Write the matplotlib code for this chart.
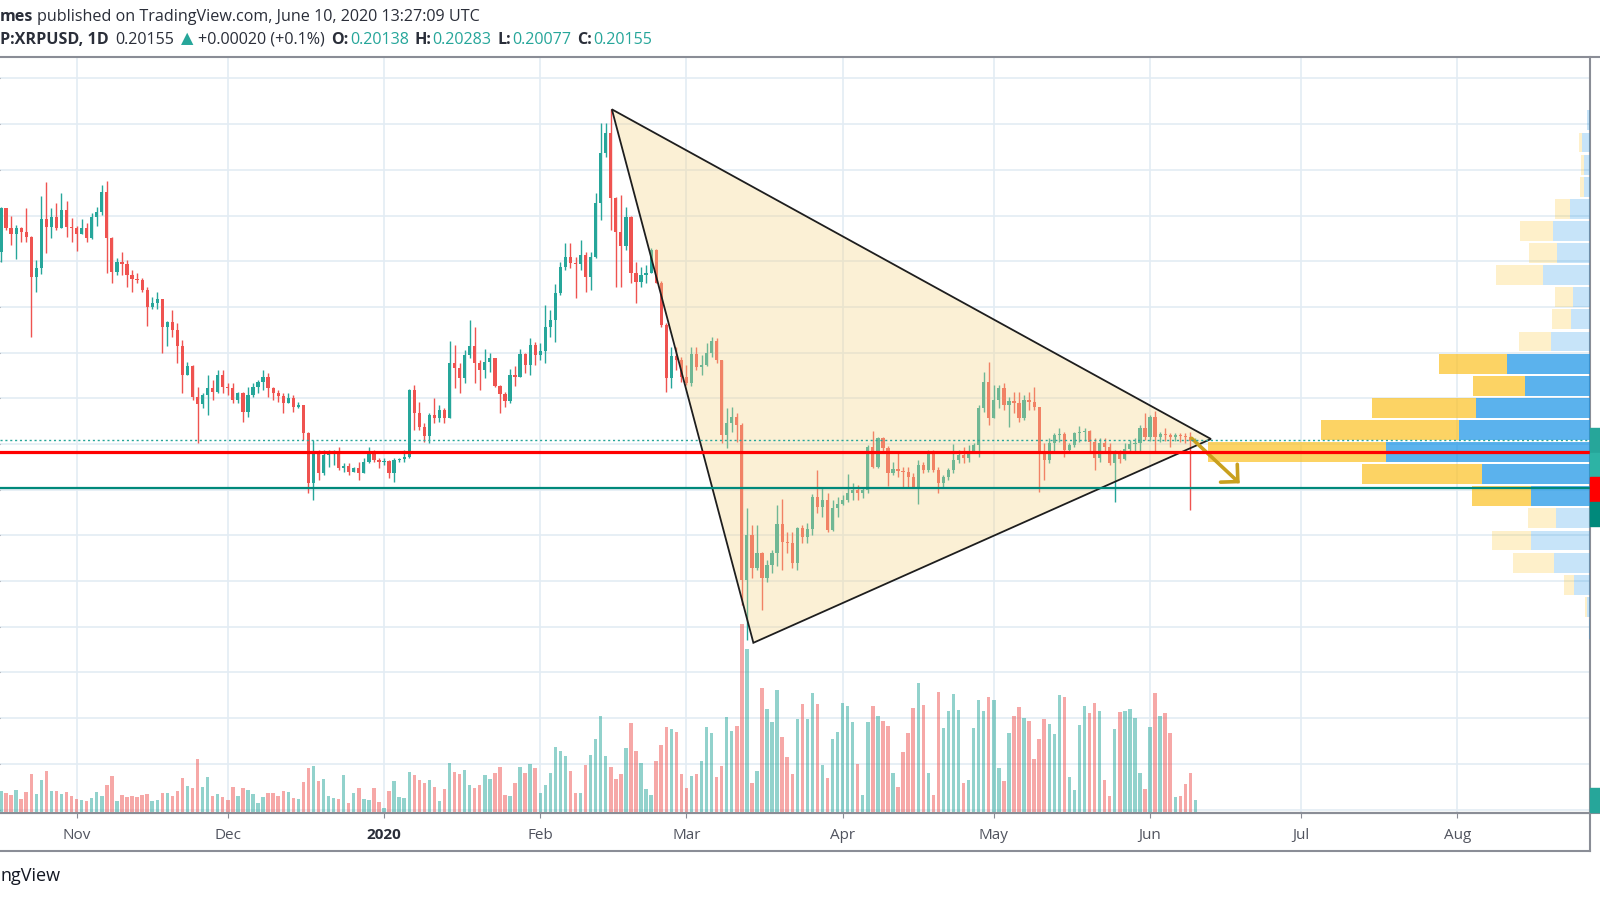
import numpy as np
import pandas as pd
import matplotlib
matplotlib.use('Agg')
import matplotlib.pyplot as plt
import matplotlib.dates as mdates
from matplotlib.patches import Polygon, Rectangle, FancyArrowPatch
from matplotlib.lines import Line2D

# ---- daily candles XRPUSD (Bitstamp), 17 Oct 2019 -> 10 Jun 2020, open = previous close
start_date = '2019-10-17'
first_open = 0.2842
close = [0.3032, 0.2944, 0.2919, 0.2944, 0.2929, 0.2905, 0.2732, 0.2769, 0.2983, 0.2951,
         0.2992, 0.2944, 0.3024, 0.2948, 0.2947, 0.2919, 0.2944, 0.2900, 0.2992, 0.3014,
         0.3104, 0.2900, 0.2754, 0.2798, 0.2788, 0.2740, 0.2721, 0.2718, 0.2674, 0.2601,
         0.2619, 0.2633, 0.2514, 0.2535, 0.2499, 0.2429, 0.2302, 0.2341, 0.2207, 0.2175,
         0.2214, 0.2244, 0.2229, 0.2302, 0.2251, 0.2244, 0.2193, 0.2222, 0.2142, 0.2214,
         0.2251, 0.2273, 0.2292, 0.2244, 0.2222, 0.2210, 0.2181, 0.2200, 0.2160, 0.2171,
         0.2050, 0.1828, 0.1959, 0.1872, 0.1952, 0.1966, 0.1971, 0.1893, 0.1904, 0.1879,
         0.1893, 0.1872, 0.1923, 0.1966, 0.1930, 0.1923, 0.1927, 0.1872, 0.1930, 0.1934,
         0.1945, 0.2236, 0.2137, 0.2076, 0.2035, 0.2127, 0.2112, 0.2149, 0.2112, 0.2353,
         0.2331, 0.2287, 0.2390, 0.2429, 0.2356, 0.2324, 0.2360, 0.2375, 0.2254, 0.2219,
         0.2190, 0.2302, 0.2295, 0.2394, 0.2346, 0.2433, 0.2390, 0.2408, 0.2511, 0.2543,
         0.2659, 0.2776, 0.2820, 0.2791, 0.2788, 0.2827, 0.2730, 0.2820, 0.3053, 0.3272,
         0.3363, 0.3075, 0.2929, 0.2867, 0.2995, 0.2747, 0.2711, 0.2740, 0.2750, 0.2849,
         0.2706, 0.2521, 0.2287, 0.2385, 0.2368, 0.2295, 0.2266, 0.2394, 0.2338, 0.2346,
         0.2397, 0.2451, 0.2368, 0.2039, 0.2090, 0.2120, 0.2083, 0.1405, 0.1602, 0.1456,
         0.1524, 0.1412, 0.1470, 0.1521, 0.1650, 0.1573, 0.1565, 0.1478, 0.1631, 0.1594,
         0.1626, 0.1769, 0.1726, 0.1755, 0.1624, 0.1718, 0.1737, 0.1755, 0.1784, 0.1799,
         0.1787, 0.1799, 0.1988, 0.1901, 0.2025, 0.1981, 0.1875, 0.1889, 0.1883, 0.1879,
         0.1857, 0.1813, 0.1908, 0.1886, 0.1966, 0.1886, 0.1828, 0.1857, 0.1886, 0.1930,
         0.1952, 0.1937, 0.1966, 0.1996, 0.2156, 0.2273, 0.2112, 0.2193, 0.2244, 0.2171,
         0.2190, 0.2178, 0.2112, 0.2193, 0.2185, 0.2160, 0.1966, 0.1930, 0.2003, 0.2039,
         0.2044, 0.1974, 0.1996, 0.2047, 0.2054, 0.2057, 0.2010, 0.1937, 0.2003, 0.1985,
         0.1918, 0.1966, 0.1933, 0.1977, 0.2000, 0.2003, 0.2069, 0.2032, 0.2120, 0.2029,
         0.2044, 0.2039, 0.2029, 0.2039, 0.2035, 0.2032, 0.20138, 0.20155]
high = [0.3039, 0.3024, 0.2998, 0.2959, 0.2951, 0.3032, 0.2910, 0.2805, 0.3085, 0.3148,
        0.3032, 0.3056, 0.3100, 0.3065, 0.2988, 0.2954, 0.2983, 0.2966, 0.3010, 0.3039,
        0.3134, 0.3153, 0.2905, 0.2813, 0.2842, 0.2805, 0.2761, 0.2747, 0.2725, 0.2689,
        0.2645, 0.2667, 0.2633, 0.2540, 0.2587, 0.2528, 0.2455, 0.2360, 0.2346, 0.2251,
        0.2222, 0.2302, 0.2280, 0.2324, 0.2324, 0.2266, 0.2266, 0.2229, 0.2229, 0.2251,
        0.2266, 0.2280, 0.2324, 0.2309, 0.2251, 0.2236, 0.2222, 0.2222, 0.2216, 0.2185,
        0.2171, 0.2054, 0.2018, 0.1974, 0.1974, 0.1974, 0.1974, 0.1988, 0.1915, 0.1915,
        0.1901, 0.1923, 0.1937, 0.1985, 0.1974, 0.1937, 0.1937, 0.1930, 0.1937, 0.1937,
        0.1974, 0.2240, 0.2258, 0.2185, 0.2090, 0.2134, 0.2200, 0.2171, 0.2156, 0.2452,
        0.2433, 0.2353, 0.2411, 0.2543, 0.2514, 0.2368, 0.2414, 0.2397, 0.2378, 0.2258,
        0.2229, 0.2327, 0.2341, 0.2414, 0.2400, 0.2462, 0.2448, 0.2441, 0.2608, 0.2587,
        0.2700, 0.2798, 0.2878, 0.2881, 0.2820, 0.2893, 0.2842, 0.2842, 0.3097, 0.3407,
        0.3404, 0.3465, 0.3080, 0.3090, 0.3039, 0.3000, 0.2798, 0.2776, 0.2783, 0.2856,
        0.2852, 0.2715, 0.2528, 0.2426, 0.2426, 0.2382, 0.2346, 0.2426, 0.2426, 0.2390,
        0.2441, 0.2470, 0.2462, 0.2368, 0.2156, 0.2160, 0.2134, 0.2090, 0.1718, 0.1645,
        0.1645, 0.1529, 0.1492, 0.1536, 0.1733, 0.1758, 0.1616, 0.1616, 0.1638, 0.1645,
        0.1653, 0.1781, 0.1886, 0.1806, 0.1784, 0.1755, 0.1769, 0.1777, 0.1869, 0.1828,
        0.1821, 0.1813, 0.1996, 0.2058, 0.2032, 0.2032, 0.1991, 0.1923, 0.1959, 0.1901,
        0.1901, 0.1872, 0.1930, 0.1923, 0.1974, 0.1974, 0.1901, 0.1864, 0.1893, 0.2000,
        0.1974, 0.1988, 0.1996, 0.2006, 0.2171, 0.2317, 0.2360, 0.2258, 0.2258, 0.2266,
        0.2207, 0.2229, 0.2229, 0.2215, 0.2229, 0.2251, 0.2163, 0.2003, 0.2025, 0.2047,
        0.2069, 0.2054, 0.2003, 0.2054, 0.2079, 0.2069, 0.2061, 0.2025, 0.2025, 0.2025,
        0.2003, 0.1974, 0.1974, 0.2003, 0.2018, 0.2025, 0.2083, 0.2134, 0.2127, 0.2146,
        0.2054, 0.2069, 0.2050, 0.2047, 0.2047, 0.2050, 0.2054, 0.20283]
low = [0.2798, 0.2937, 0.2871, 0.2808, 0.2886, 0.2886, 0.2470, 0.2667, 0.2744, 0.2837,
       0.2900, 0.2937, 0.2944, 0.2905, 0.2886, 0.2846, 0.2919, 0.2886, 0.2896, 0.2954,
       0.3002, 0.2747, 0.2703, 0.2740, 0.2740, 0.2689, 0.2667, 0.2703, 0.2667, 0.2516,
       0.2589, 0.2589, 0.2397, 0.2429, 0.2470, 0.2353, 0.2222, 0.2302, 0.2193, 0.2003,
       0.2156, 0.2127, 0.2193, 0.2225, 0.2222, 0.2214, 0.2178, 0.2178, 0.2098, 0.2120,
       0.2207, 0.2222, 0.2236, 0.2207, 0.2193, 0.2185, 0.2134, 0.2178, 0.2142, 0.2156,
       0.2018, 0.1784, 0.1755, 0.1842, 0.1864, 0.1901, 0.1908, 0.1886, 0.1879, 0.1864,
       0.1879, 0.1842, 0.1872, 0.1915, 0.1923, 0.1893, 0.1908, 0.1850, 0.1835, 0.1923,
       0.1923, 0.1937, 0.2061, 0.2061, 0.2010, 0.2003, 0.2090, 0.2098, 0.2090, 0.2112,
       0.2244, 0.2222, 0.2266, 0.2375, 0.2266, 0.2236, 0.2287, 0.2317, 0.2251, 0.2134,
       0.2163, 0.2178, 0.2254, 0.2302, 0.2309, 0.2302, 0.2346, 0.2368, 0.2353, 0.2467,
       0.2448, 0.2652, 0.2762, 0.2769, 0.2638, 0.2762, 0.2667, 0.2674, 0.2813, 0.2980,
       0.3258, 0.2937, 0.2689, 0.2689, 0.2849, 0.2703, 0.2616, 0.2689, 0.2703, 0.2747,
       0.2703, 0.2514, 0.2229, 0.2244, 0.2324, 0.2273, 0.2258, 0.2254, 0.2324, 0.2302,
       0.2341, 0.2382, 0.2353, 0.2003, 0.1981, 0.2054, 0.2010, 0.1295, 0.1142, 0.1412,
       0.1449, 0.1273, 0.1397, 0.1434, 0.1466, 0.1449, 0.1521, 0.1456, 0.1449, 0.1568,
       0.1568, 0.1602, 0.1697, 0.1682, 0.1616, 0.1621, 0.1682, 0.1733, 0.1748, 0.1755,
       0.1755, 0.1762, 0.1784, 0.1893, 0.1893, 0.1959, 0.1816, 0.1864, 0.1857, 0.1813,
       0.1813, 0.1806, 0.1737, 0.1872, 0.1879, 0.1879, 0.1784, 0.1813, 0.1842, 0.1872,
       0.1915, 0.1915, 0.1923, 0.1959, 0.1945, 0.2142, 0.2083, 0.2112, 0.2156, 0.2149,
       0.2073, 0.2134, 0.2098, 0.2105, 0.2149, 0.2149, 0.1791, 0.1842, 0.1915, 0.1966,
       0.2010, 0.1945, 0.1966, 0.1988, 0.2010, 0.2015, 0.1966, 0.1886, 0.1923, 0.1966,
       0.1908, 0.1748, 0.1915, 0.1930, 0.1959, 0.1966, 0.1959, 0.2018, 0.2015, 0.1962,
       0.2010, 0.2015, 0.1988, 0.2015, 0.2010, 0.2005, 0.1711, 0.20077]
# volume, arbitrary units (M XRP)
volume = [22.3, 19.7, 18.3, 23.0, 14.0, 20.7, 39.0, 19.0, 33.3, 42.3,
          21.7, 22.3, 19.0, 21.0, 17.3, 14.0, 13.3, 12.3, 15.0, 20.7,
          17.3, 28.0, 37.3, 12.3, 18.0, 15.7, 17.0, 15.7, 18.3, 19.0,
          12.3, 13.3, 20.0, 20.0, 16.7, 21.7, 35.0, 27.3, 24.7, 54.0,
          26.3, 36.3, 16.7, 19.0, 15.7, 13.3, 25.7, 17.3, 25.0, 23.0,
          19.0, 10.0, 15.7, 20.0, 20.3, 17.3, 22.3, 20.7, 15.0, 14.0,
          31.3, 45.0, 47.0, 32.3, 33.7, 17.0, 14.7, 14.0, 38.3, 10.0,
          20.0, 25.0, 14.0, 13.0, 24.7, 10.7, 5.0, 22.3, 32.3, 15.7,
          15.0, 41.0, 38.3, 33.0, 29.7, 33.0, 25.7, 12.3, 24.3, 50.0,
          41.3, 39.0, 43.0, 28.0, 25.0, 28.3, 38.3, 34.0, 39.7, 45.7,
          18.3, 17.0, 30.0, 45.7, 40.0, 48.7, 44.7, 20.0, 28.3, 39.7,
          65.3, 62.0, 56.7, 42.0, 20.3, 19.7, 47.7, 57.3, 74.0, 97.0,
          56.7, 45.7, 34.0, 39.0, 65.0, 90.0, 61.3, 49.7, 24.0, 18.0,
          51.7, 67.3, 85.7, 83.3, 80.7, 39.0, 25.0, 36.7, 39.0, 52.0,
          85.7, 80.0, 35.7, 47.3, 95.7, 81.7, 86.7, 188.3, 163.0, 29.7,
          42.3, 125.0, 104.0, 90.3, 122.3, 75.7, 55.7, 39.0, 94.0, 108.3,
          94.0, 119.7, 108.3, 48.3, 35.0, 74.0, 80.7, 109.7, 106.7, 91.0,
          49.0, 18.3, 90.3, 107.0, 96.3, 91.7, 87.0, 39.7, 26.3, 60.3,
          80.0, 104.3, 130.0, 107.3, 40.3, 18.3, 120.3, 84.7, 101.3, 118.7,
          103.0, 30.3, 33.0, 84.7, 113.0, 101.3, 115.3, 113.0, 45.0, 32.3,
          80.0, 97.0, 105.7, 95.0, 91.7, 54.0, 73.3, 93.7, 89.0, 79.0,
          118.0, 115.7, 36.3, 23.0, 87.3, 106.3, 99.7, 110.0, 101.7, 33.3,
          17.3, 83.3, 100.3, 101.7, 104.0, 95.0, 40.0, 24.0, 85.3, 119.7,
          96.3, 100.0, 80.0, 16.3, 17.3, 28.7, 39.7, 13.0]

# visible range volume profile, 24 rows from lowest to highest price
vp_up = [1.0, 2.7, 16.0, 36.3, 58.7, 34.3, 59.0, 108.3, 204.0, 131.3, 113.7, 65.3,
         83.3, 39.0, 19.3, 17.3, 46.7, 33.0, 37.0, 20.3, 6.0, 6.0, 8.3, 2.7]
vp_down = [0.0, 2.3, 10.0, 40.3, 39.0, 28.0, 59.3, 120.0, 178.0, 137.3, 104.3, 51.7,
           67.7, 32.3, 18.3, 18.0, 47.7, 28.3, 33.3, 15.0, 4.3, 3.3, 2.7, 0.0]
value_area_rows = (6, 12)

# drawings
tri_dates = ['2020-02-15 05:00', '2020-03-14 07:00', '2020-06-13 02:00']
tri_prices = [0.3465, 0.1130, 0.2022]
red_level = 0.1966
teal_level = 0.1806
arrow_dates = ['2020-06-09 06:00', '2020-06-18 19:00']
arrow_prices = [0.2025, 0.1828]

month_ticks = ['2019-11-01', '2019-12-01', '2020-01-01', '2020-02-01', '2020-03-01',
               '2020-04-01', '2020-05-01', '2020-06-01', '2020-07-01', '2020-08-01']
month_labels = ['Nov', 'Dec', '2020', 'Feb', 'Mar', 'Apr', 'May', 'Jun', 'Jul', 'Aug']

UP = '#26a69a'
DOWN = '#ef5350'
GRID = '#e3ecf4'
FRAME = '#8a8d96'
FONT = ['Open Sans', 'DejaVu Sans']

# ---- prepare
dates = pd.date_range(start_date, periods=len(close), freq='D')
x = mdates.date2num(dates)
c = np.array(close)
o = np.concatenate([[first_open], c[:-1]])
h = np.maximum(np.array(high), np.maximum(o, c))
l = np.minimum(np.array(low), np.minimum(o, c))
up = c >= o
cols = np.where(up, UP, DOWN)

W, H = 1600, 900
fig = plt.figure(figsize=(16, 9), dpi=100)
fig.patch.set_facecolor('white')
plot_left, plot_right, plot_top, plot_bottom = 0, 1590, 57, 813
rect = [plot_left / W, 1 - plot_bottom / H, (plot_right - plot_left) / W, (plot_bottom - plot_top) / H]

ax = fig.add_axes(rect)
ax.set_zorder(1)
x0 = x[0]
ax.set_xlim(x0 - 0.2, x0 + 315.3)
ax.set_ylim(0.0385, 0.3694)

# grid
ax.set_yticks(np.arange(0.04, 0.37, 0.02))
ax.set_xticks(mdates.date2num(pd.to_datetime(month_ticks)))
ax.grid(True, color=GRID, lw=1.2, zorder=0)
ax.set_axisbelow(True)

# candles
ax.vlines(x, l, h, colors=cols, lw=1.0, zorder=3)
body = np.maximum(np.abs(c - o), 0.00045)
ax.bar(x, body, bottom=np.minimum(o, c), width=0.64, color=cols, lw=0, zorder=4)

# spines / ticks
for s in ['left', 'top']:
    ax.spines[s].set_visible(False)
ax.spines['right'].set_color(FRAME)
ax.spines['right'].set_linewidth(1.5)
ax.spines['bottom'].set_color(FRAME)
ax.spines['bottom'].set_linewidth(1.5)
ax.yaxis.tick_right()
ax.tick_params(axis='y', length=4, color=FRAME, labelright=False)
ax.tick_params(axis='x', length=3.5, color=FRAME, pad=7.5, labelsize=11, labelcolor='#50535e')
ax.set_xticklabels(month_labels, family=FONT)
for lab in ax.get_xticklabels():
    if lab.get_text() == '2020':
        lab.set_fontweight('bold')
        lab.set_color('#2a2e39')

# volume overlay
vax = ax.twinx()
vax.set_zorder(2)
vax.patch.set_visible(False)
vax.bar(x, volume, width=0.68, color=cols, alpha=0.5, lw=0)
vax.set_ylim(0, max(volume) * 4.0)
vax.axis('off')

# volume profile
vp = ax.twiny()
vp.set_zorder(3)
vp.patch.set_visible(False)
nrows = len(vp_up)
lo, hi = l.min(), h.max()
step = (hi - lo) / nrows
centers = lo + step * (np.arange(nrows) + 0.5)
tot = np.array(vp_up) + np.array(vp_down)
in_va = (np.arange(nrows) >= value_area_rows[0]) & (np.arange(nrows) <= value_area_rows[1])
blue = [(0.082, 0.573, 0.902, 0.7) if v else (0.082, 0.573, 0.902, 0.24) for v in in_va]
yellow = [(0.984, 0.757, 0.137, 0.7) if v else (0.984, 0.757, 0.137, 0.24) for v in in_va]
vp.barh(centers, vp_up, height=step * 0.9, left=0, color=blue, lw=0)
vp.barh(centers, vp_down, height=step * 0.9, left=vp_up, color=yellow, lw=0)
vp.set_xlim(tot.max() / 0.2403, 0)
vp.axis('off')

# drawings on top
top = fig.add_axes(rect, sharex=ax, sharey=ax)
top.set_zorder(4)
top.patch.set_visible(False)
top.axis('off')
tri = np.column_stack([mdates.date2num(pd.to_datetime(tri_dates)), tri_prices])
top.add_patch(Polygon(tri, closed=True, facecolor=(0.96, 0.84, 0.55, 0.36),
                      edgecolor='#1e1e1e', lw=1.3))
top.axhline(red_level, color='#ff0000', lw=2.3)
top.axhline(teal_level, color='#00897b', lw=1.6)
top.axhline(c[-1], color=UP, lw=1.0, ls=(0, (1.5, 2)))
ad = mdates.date2num(pd.to_datetime(arrow_dates))
top.add_patch(FancyArrowPatch((ad[0], arrow_prices[0]), (ad[1], arrow_prices[1]),
                              arrowstyle='->,head_length=0.55,head_width=0.55',
                              mutation_scale=16, lw=2.6, color='#c9a01e',
                              shrinkA=0, shrinkB=0, capstyle='round', joinstyle='miter'))
top.set_xlim(x0 - 0.2, x0 + 315.3)
top.set_ylim(0.0385, 0.3694)

# frame lines
fl = dict(color=FRAME, lw=1.5, transform=fig.transFigure)
fig.lines.append(Line2D([0, 1], [1 - plot_top / H] * 2, **fl))
fig.lines.append(Line2D([0, 1], [1 - plot_bottom / H] * 2, **fl))
fig.lines.append(Line2D([0, plot_right / W], [1 - 851 / H] * 2, **fl))
fig.lines.append(Line2D([plot_right / W] * 2, [1 - 851 / H, 1 - plot_bottom / H], **fl))

# price-axis labels peeking at the right edge (stacked below the last price)
box_h = 24.5
ycur = ax.transData.transform((x[-1], c[-1]))[1]
stack = [UP, '#2db3a5', '#ff0000', '#00897b']
ytop = ycur + box_h / 2
for col in stack:
    fig.patches.append(Rectangle((plot_right / W, (ytop - box_h) / H), 12 / W, box_h / H,
                                 color=col, transform=fig.transFigure, zorder=5))
    ytop -= box_h
yv = vax.transData.transform((x[-1], volume[-1]))[1]
fig.patches.append(Rectangle((plot_right / W, (yv - box_h / 2) / H), 12 / W, box_h / H,
                             color=UP, transform=fig.transFigure, zorder=5))

# header
renderer = fig.canvas.get_renderer()


def write_line(parts, y_px, size):
    xp = 0
    for txt, col, wt, gap in parts:
        t = fig.text(xp / W, 1 - y_px / H, txt, color=col, fontweight=wt, fontsize=size,
                     family=FONT, va='center', ha='left')
        bb = t.get_window_extent(renderer=renderer)
        xp = bb.x1 + gap


DARK = '#2a2e39'
write_line([('mes', DARK, 'bold', 4),
            ('published on TradingView.com, June 10, 2020 13:27:09 UTC', DARK, 'normal', 0)],
           17, 11.6)
write_line([('P:XRPUSD, 1D', DARK, 'bold', 7),
            ('0.20155', DARK, 'normal', 6),
            ('\u25B2', UP, 'normal', 5),
            ('+0.00020 (+0.1%)', DARK, 'normal', 7),
            ('O:', DARK, 'bold', 1), ('0.20138', UP, 'normal', 6),
            ('H:', DARK, 'bold', 1), ('0.20283', UP, 'normal', 6),
            ('L:', DARK, 'bold', 1), ('0.20077', UP, 'normal', 6),
            ('C:', DARK, 'bold', 1), ('0.20155', UP, 'normal', 0)],
           39.5, 11.6)
fig.text(0, 1 - 876 / H, 'ngView', fontsize=13, color='#131722', family=FONT, va='center', ha='left')

fig.savefig('out.png', dpi=100)
